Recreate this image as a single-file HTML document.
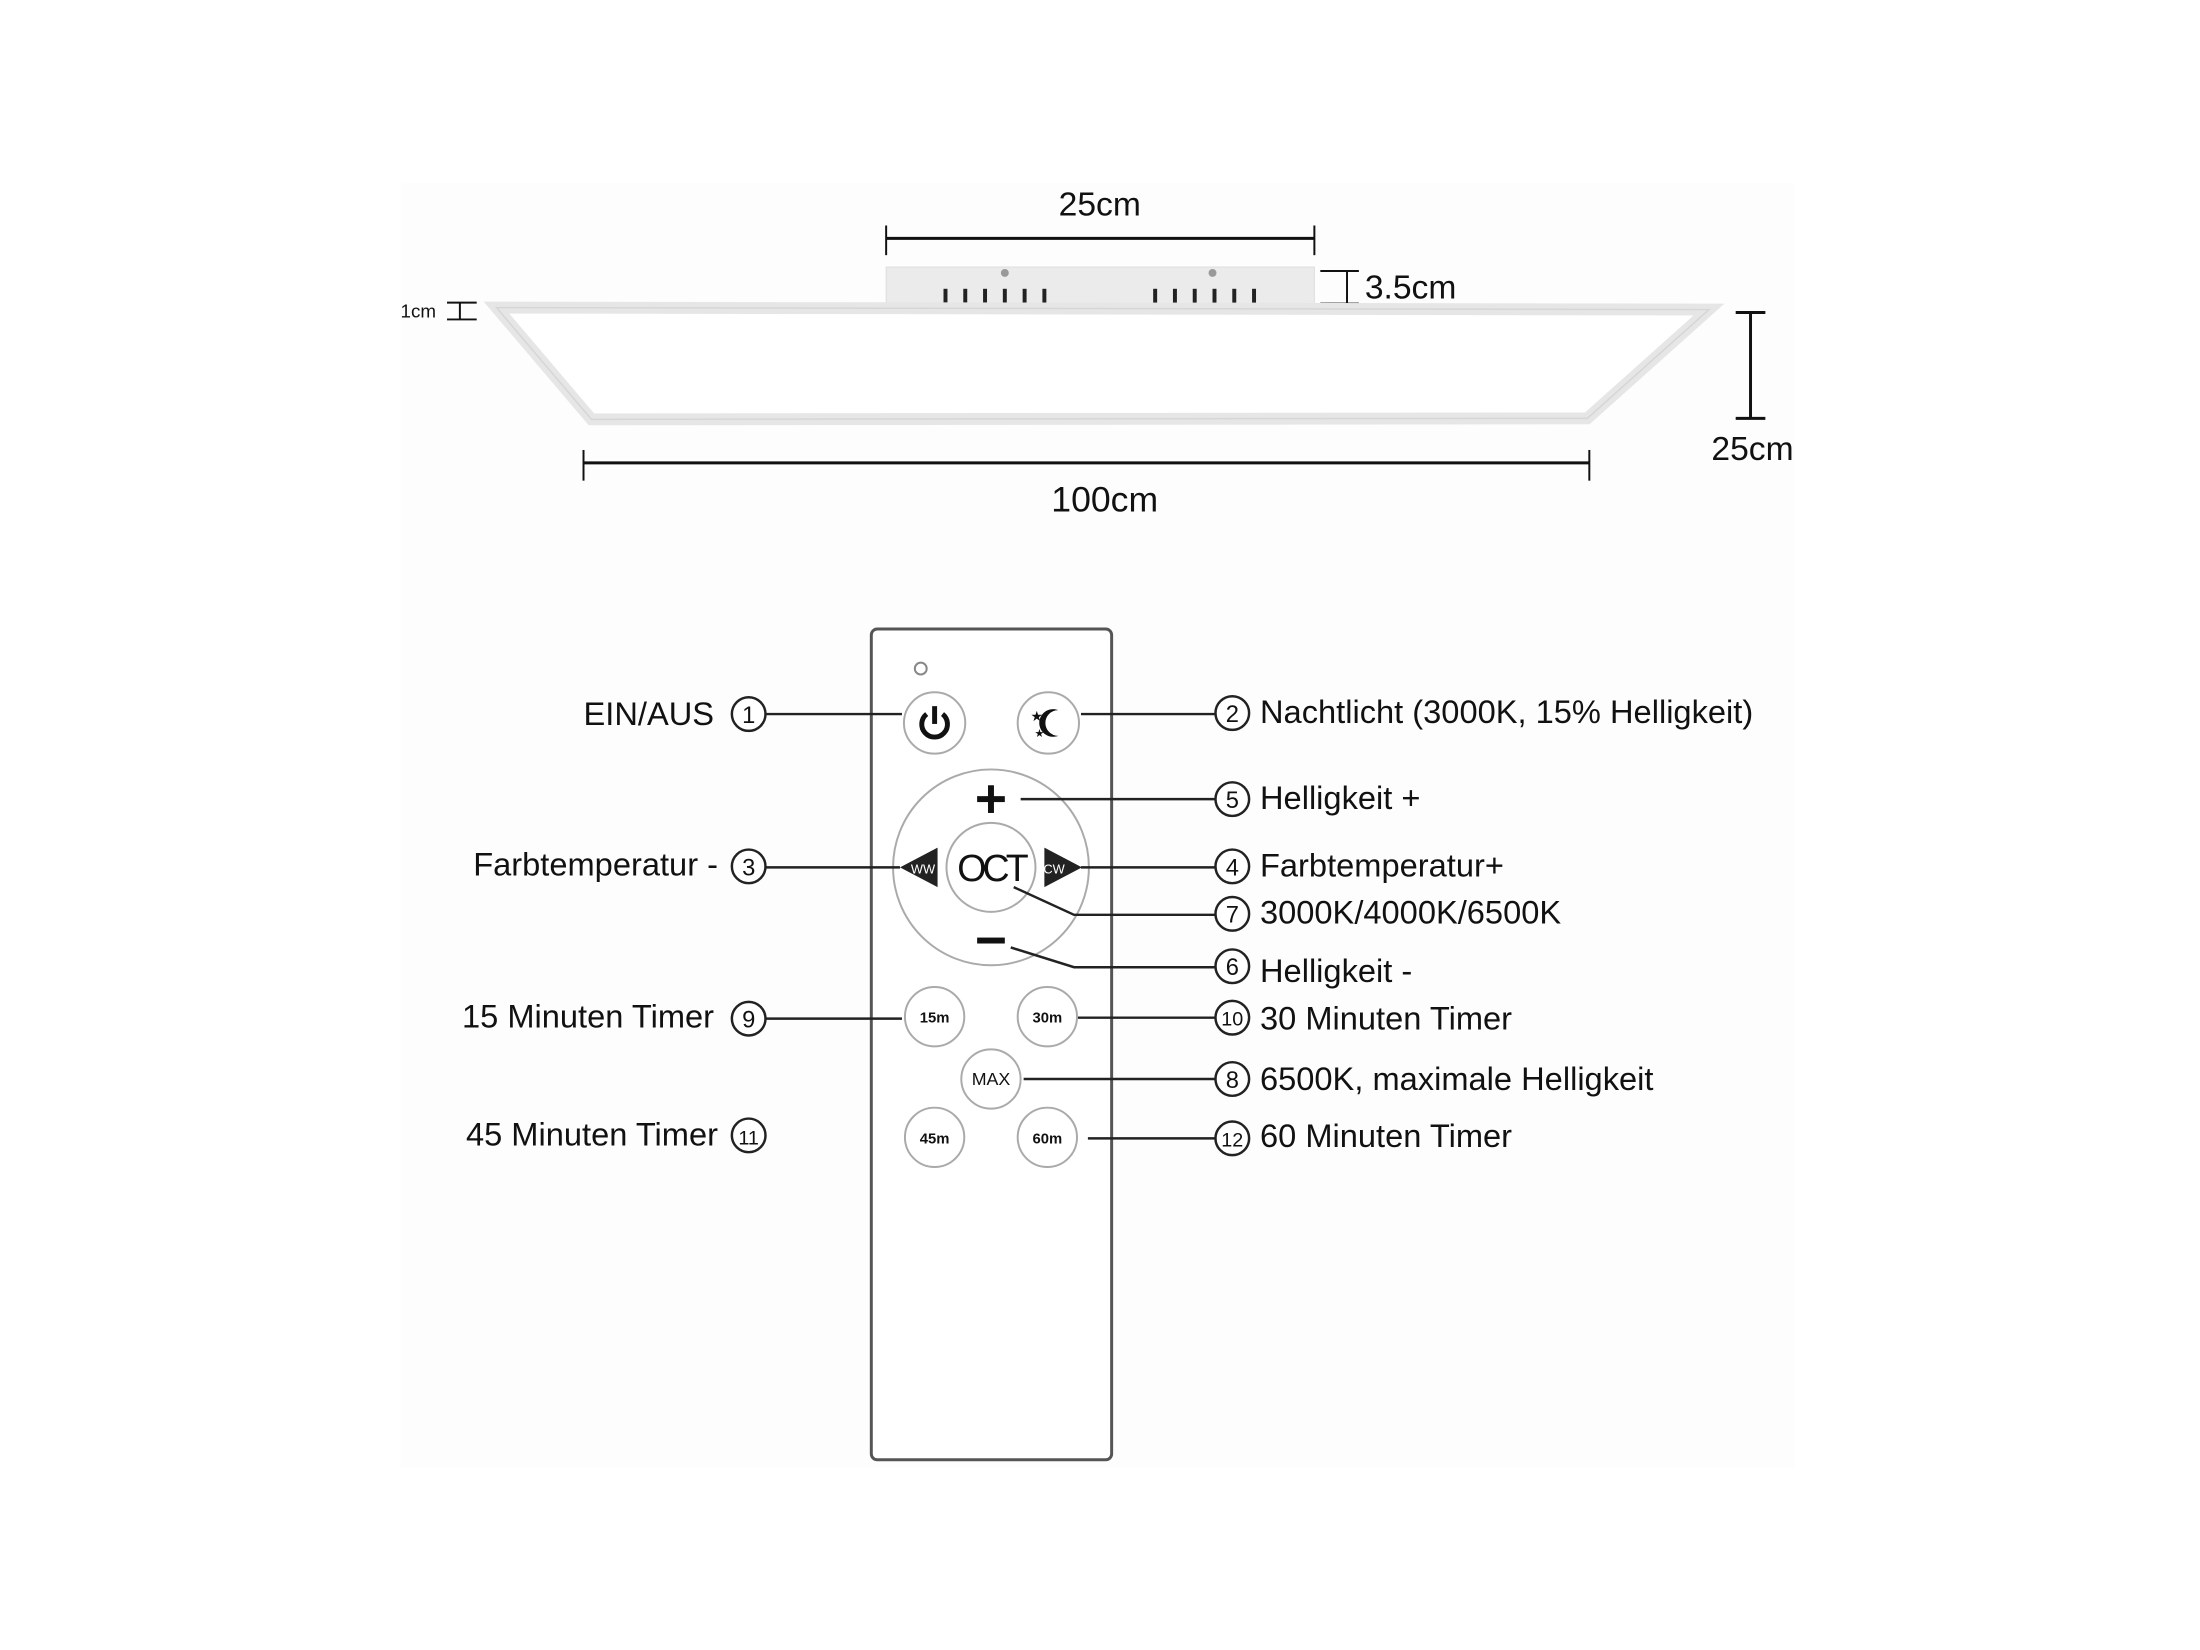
<!DOCTYPE html>
<html><head><meta charset="utf-8"><style>
html,body{margin:0;padding:0;background:#fff}
svg{display:block}
text{font-family:"Liberation Sans Narrow","Liberation Sans",sans-serif;fill:#111}
</style></head><body>
<svg width="2200" height="1650" viewBox="0 0 2200 1650" xmlns="http://www.w3.org/2000/svg">
<g transform="scale(0.989)">
<rect x="405" y="185" width="1410" height="1300" fill="#fdfdfd"/>
<text x="1112" y="218" font-size="34" text-anchor="middle">25cm</text>
<line x1="896" y1="241" x2="1329" y2="241" stroke="#111" stroke-width="3"/>
<line x1="896" y1="228" x2="896" y2="258" stroke="#111" stroke-width="2"/>
<line x1="1329" y1="228" x2="1329" y2="258" stroke="#111" stroke-width="2"/>
<rect x="896" y="270" width="433" height="42" fill="#ebebeb" stroke="#ddd"/>
<g fill="#222">
<rect x="954" y="292" width="4" height="14"/><rect x="974" y="292" width="4" height="14"/><rect x="994" y="292" width="4" height="14"/><rect x="1014" y="292" width="4" height="14"/><rect x="1034" y="292" width="4" height="14"/><rect x="1054" y="292" width="4" height="14"/>
<rect x="1166" y="292" width="4" height="14"/><rect x="1186" y="292" width="4" height="14"/><rect x="1206" y="292" width="4" height="14"/><rect x="1226" y="292" width="4" height="14"/><rect x="1246" y="292" width="4" height="14"/><rect x="1266" y="292" width="4" height="14"/>
</g>
<circle cx="1016" cy="276" r="4" fill="#999"/><circle cx="1226" cy="276" r="4" fill="#999"/>
<line x1="1362" y1="274" x2="1362" y2="307" stroke="#111" stroke-width="2"/>
<line x1="1335" y1="274" x2="1374" y2="274" stroke="#111" stroke-width="2"/>
<line x1="1335" y1="307" x2="1374" y2="307" stroke="#111" stroke-width="2"/>
<text x="1380" y="302" font-size="34">3.5cm</text>
<text x="405" y="321" font-size="19">1cm</text>
<line x1="465" y1="306" x2="465" y2="323" stroke="#111" stroke-width="2"/>
<line x1="452" y1="306" x2="482" y2="306" stroke="#111" stroke-width="2"/>
<line x1="452" y1="323" x2="482" y2="323" stroke="#111" stroke-width="2"/>
<path d="M502 311 L1728 313 L1605 423 L598 424 Z" fill="#fff" stroke="#e6e6e6" stroke-width="12" stroke-linejoin="miter"/>
<path d="M502 311 L1728 313 L1605 423 L598 424 Z" fill="none" stroke="#d6d6d6" stroke-width="1.5"/>
<line x1="1770" y1="316" x2="1770" y2="423" stroke="#111" stroke-width="3"/>
<line x1="1755" y1="316" x2="1785" y2="316" stroke="#111" stroke-width="3"/>
<line x1="1755" y1="423" x2="1785" y2="423" stroke="#111" stroke-width="3"/>
<text x="1772" y="465" font-size="34" text-anchor="middle">25cm</text>
<line x1="590" y1="468" x2="1607" y2="468" stroke="#111" stroke-width="3"/>
<line x1="590" y1="455" x2="590" y2="486" stroke="#111" stroke-width="2"/>
<line x1="1607" y1="455" x2="1607" y2="486" stroke="#111" stroke-width="2"/>
<text x="1117" y="517" font-size="36" text-anchor="middle">100cm</text>
<rect x="881" y="636" width="243" height="840" rx="6" fill="#fff" stroke="#555" stroke-width="3"/>
<circle cx="931" cy="676" r="6" fill="none" stroke="#888" stroke-width="2"/>
<g fill="#fff" stroke="#aaa" stroke-width="2">
<circle cx="945" cy="731" r="31"/><circle cx="1060" cy="731" r="31"/>
<circle cx="1002" cy="877" r="99"/><circle cx="1002" cy="877" r="45"/>
<circle cx="945" cy="1028" r="30"/><circle cx="1059" cy="1028" r="30"/>
<circle cx="1002" cy="1091" r="30"/>
<circle cx="945" cy="1150" r="30"/><circle cx="1059" cy="1150" r="30"/>
</g>
<path d="M937 722 A13 13 0 1 0 953 722" fill="none" stroke="#111" stroke-width="5"/>
<line x1="945" y1="714" x2="945" y2="732" stroke="#111" stroke-width="5"/>
<path d="M1070 718 A14 14 0 1 0 1070 744 A11 11 0 0 1 1070 718 Z" fill="#111"/>
<text x="1042" y="729" font-size="14">★</text><text x="1046" y="745" font-size="11">★</text>
<rect x="988" y="805" width="28" height="6" fill="#111"/><rect x="999" y="794" width="6" height="28" fill="#111"/>
<rect x="988" y="948" width="28" height="6" fill="#111"/>
<path d="M948 857 L948 897 L910 877 Z" fill="#222"/>
<path d="M1056 857 L1056 897 L1094 877 Z" fill="#222"/>
<text x="921" y="883" font-size="13" style="fill:#fff">WW</text>
<text x="1055" y="883" font-size="13" style="fill:#fff">CW</text>
<text x="1002" y="891" font-size="38" text-anchor="middle" letter-spacing="-4">OCT</text>
<g font-size="15" text-anchor="middle" font-weight="bold">
<text x="945" y="1034">15m</text><text x="1059" y="1034">30m</text>
<text x="945" y="1156">45m</text><text x="1059" y="1156">60m</text>
</g>
<text x="1002" y="1097" font-size="18" text-anchor="middle" fill="#444">MAX</text>
<g stroke="#222" stroke-width="2.5" fill="none">
<line x1="775" y1="722" x2="912" y2="722"/>
<line x1="775" y1="877" x2="910" y2="877"/>
<line x1="775" y1="1030" x2="912" y2="1030"/>
<line x1="1093" y1="722" x2="1228" y2="722"/>
<line x1="1032" y1="808" x2="1228" y2="808"/>
<line x1="1093" y1="877" x2="1228" y2="877"/>
<polyline points="1025,897 1086,925 1228,925"/>
<polyline points="1022,958 1086,978 1228,978"/>
<line x1="1090" y1="1029" x2="1228" y2="1029"/>
<line x1="1035" y1="1091" x2="1228" y2="1091"/>
<line x1="1100" y1="1151" x2="1228" y2="1151"/>
</g>
<g fill="#fff" stroke="#222" stroke-width="2.5">
<circle cx="757" cy="722" r="17"/><circle cx="757" cy="876" r="17"/><circle cx="757" cy="1030" r="17"/><circle cx="757" cy="1148" r="17"/>
<circle cx="1246" cy="721" r="17"/><circle cx="1246" cy="808" r="17"/><circle cx="1246" cy="876" r="17"/><circle cx="1246" cy="924" r="17"/><circle cx="1246" cy="977" r="17"/><circle cx="1246" cy="1029" r="17"/><circle cx="1246" cy="1091" r="17"/><circle cx="1246" cy="1151" r="17"/>
</g>
<g font-size="24" text-anchor="middle">
<text x="757" y="731">1</text><text x="757" y="885">3</text><text x="757" y="1039">9</text><text x="757" y="1157" font-size="20">11</text>
<text x="1246" y="730">2</text><text x="1246" y="817">5</text><text x="1246" y="885">4</text><text x="1246" y="933">7</text><text x="1246" y="986">6</text><text x="1246" y="1037" font-size="20">10</text><text x="1246" y="1100">8</text><text x="1246" y="1159" font-size="20">12</text>
</g>
<g font-size="33" text-anchor="end">
<text x="722" y="733">EIN/AUS</text>
<text x="726" y="885">Farbtemperatur -</text>
<text x="722" y="1039">15 Minuten Timer</text>
<text x="726" y="1158">45 Minuten Timer</text>
</g>
<g font-size="33">
<text x="1274" y="731">Nachtlicht (3000K, 15% Helligkeit)</text>
<text x="1274" y="818">Helligkeit +</text>
<text x="1274" y="886">Farbtemperatur+</text>
<text x="1274" y="934">3000K/4000K/6500K</text>
<text x="1274" y="993">Helligkeit -</text>
<text x="1274" y="1041">30 Minuten Timer</text>
<text x="1274" y="1102">6500K, maximale Helligkeit</text>
<text x="1274" y="1160">60 Minuten Timer</text>
</g>
</g>
</svg>
</body></html>
